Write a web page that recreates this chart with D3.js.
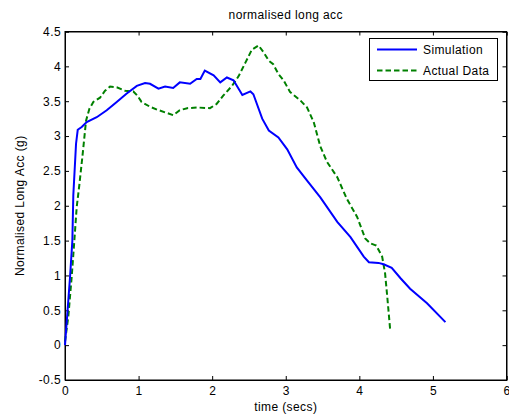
<!DOCTYPE html>
<html><head><meta charset="utf-8">
<script src="https://cdn.jsdelivr.net/npm/d3@7"></script>
<style>
body{margin:0;background:#fff;}
text{font-family:"Liberation Sans",Arial,Helvetica,sans-serif;letter-spacing:0.4px;}
</style></head>
<body><svg id="c" width="509" height="415"></svg>
<script>
const title = "normalised long acc";
const xLabel = "time (secs)";
const yLabel = "Normalised Long Acc (g)";
const xTicks = [0,1,2,3,4,5,6];
const yTicks = [-0.5,0,0.5,1,1.5,2,2.5,3,3.5,4,4.5];
const seriesNames = ["Simulation","Actual Data"];

const simX = [0,0.068,0.10,0.113,0.15,0.173,0.227,0.295,0.431,0.567,0.703,0.839,0.976,1.088,1.156,1.27,1.36,1.47,1.56,1.70,1.79,1.84,1.90,2.02,2.11,2.20,2.29,2.41,2.52,2.56,2.68,2.77,2.90,3.02,3.15,3.29,3.47,3.70,3.88,4.06,4.13,4.26,4.33,4.44,4.56,4.69,4.92,5.17];
const simY = [0,0.97,1.5,2.15,2.89,3.09,3.13,3.2,3.27,3.37,3.49,3.61,3.72,3.76,3.75,3.68,3.71,3.69,3.77,3.75,3.82,3.82,3.94,3.87,3.77,3.84,3.80,3.59,3.64,3.60,3.25,3.08,2.98,2.81,2.55,2.36,2.12,1.77,1.55,1.27,1.19,1.18,1.16,1.11,0.96,0.81,0.60,0.33];

const actX = [0,0.045,0.091,0.127,0.159,0.195,0.241,0.286,0.331,0.385,0.476,0.544,0.612,0.703,0.816,0.929,0.984,1.04,1.156,1.25,1.36,1.47,1.56,1.66,1.79,1.97,2.06,2.15,2.27,2.36,2.45,2.54,2.63,2.70,2.77,2.83,2.90,2.97,3.06,3.20,3.29,3.38,3.47,3.56,3.70,3.83,3.97,4.08,4.15,4.23,4.31,4.35,4.38,4.42];
const actY = [0.05,0.41,0.98,1.5,1.98,2.3,2.75,3.22,3.39,3.49,3.55,3.65,3.71,3.70,3.65,3.64,3.58,3.49,3.42,3.38,3.34,3.30,3.37,3.40,3.41,3.40,3.46,3.58,3.72,3.86,4.05,4.24,4.30,4.20,4.08,4.03,3.89,3.80,3.63,3.51,3.41,3.20,2.85,2.63,2.41,2.10,1.84,1.53,1.46,1.43,1.27,1.03,0.69,0.21];

const svg = d3.select("#c");
const L=65, T=31.5, R=506.5, B=380;
const x = d3.scaleLinear().domain([0,6]).range([L,R]);
const y = d3.scaleLinear().domain([-0.5,4.5]).range([B,T]);

svg.append("rect").attr("x",L).attr("y",T).attr("width",R-L).attr("height",B-T)
  .attr("fill","#fff").attr("stroke","#000").attr("stroke-width",1);

const fs = 12;
const gx = svg.append("g").attr("transform",`translate(0,${B})`)
  .call(d3.axisBottom(x).tickValues(xTicks).tickSize(-4).tickPadding(6).tickFormat(d3.format("d")));
const gxt = svg.append("g").attr("transform",`translate(0,${T})`)
  .call(d3.axisTop(x).tickValues(xTicks).tickSize(-4).tickFormat(""));
const gy = svg.append("g").attr("transform",`translate(${L},0)`)
  .call(d3.axisLeft(y).tickValues(yTicks).tickSize(-4).tickPadding(4).tickFormat(d=>String(d)));
const gyr = svg.append("g").attr("transform",`translate(${R},0)`)
  .call(d3.axisRight(y).tickValues(yTicks).tickSize(-4).tickFormat(""));
[gx,gxt,gy,gyr].forEach(g=>{
  g.select(".domain").attr("stroke","#000");
  g.selectAll(".tick line").attr("stroke","#000");
  g.selectAll("text").attr("font-size",fs).attr("fill","#000")
   .attr("font-family","'Liberation Sans',Arial,sans-serif");
});

const line = d3.line().x(d=>x(d[0])).y(d=>y(d[1]));
svg.append("path").datum(actX.map((v,i)=>[v,actY[i]]))
  .attr("d",line).attr("fill","none").attr("stroke","#008000")
  .attr("stroke-width",2).attr("stroke-dasharray","5.5,3");
svg.append("path").datum(simX.map((v,i)=>[v,simY[i]]))
  .attr("d",line).attr("fill","none").attr("stroke","#0000ff")
  .attr("stroke-width",2);

svg.append("text").attr("x",(L+R)/2).attr("y",18.5).attr("text-anchor","middle")
  .attr("font-size",fs).text(title);
svg.append("text").attr("x",(L+R)/2).attr("y",411).attr("text-anchor","middle")
  .attr("font-size",fs).text(xLabel);
svg.append("text").attr("transform",`translate(24,${(T+B)/2}) rotate(-90)`)
  .attr("text-anchor","middle").attr("font-size",fs).text(yLabel);

const lg = svg.append("g");
lg.append("rect").attr("x",369.5).attr("y",38.5).attr("width",128).attr("height",42)
  .attr("fill","#fff").attr("stroke","#000");
const colors=["#0000ff","#008000"], dashes=[null,"5.5,3"];
seriesNames.forEach((n,i)=>{
  const yy = 49.5 + i*21;
  lg.append("line").attr("x1",377).attr("x2",417).attr("y1",yy).attr("y2",yy)
    .attr("stroke",colors[i]).attr("stroke-width",2).attr("stroke-dasharray",dashes[i]);
  lg.append("text").attr("x",423).attr("y",yy+4.5).attr("font-size",fs).text(n);
});
</script></body></html>
